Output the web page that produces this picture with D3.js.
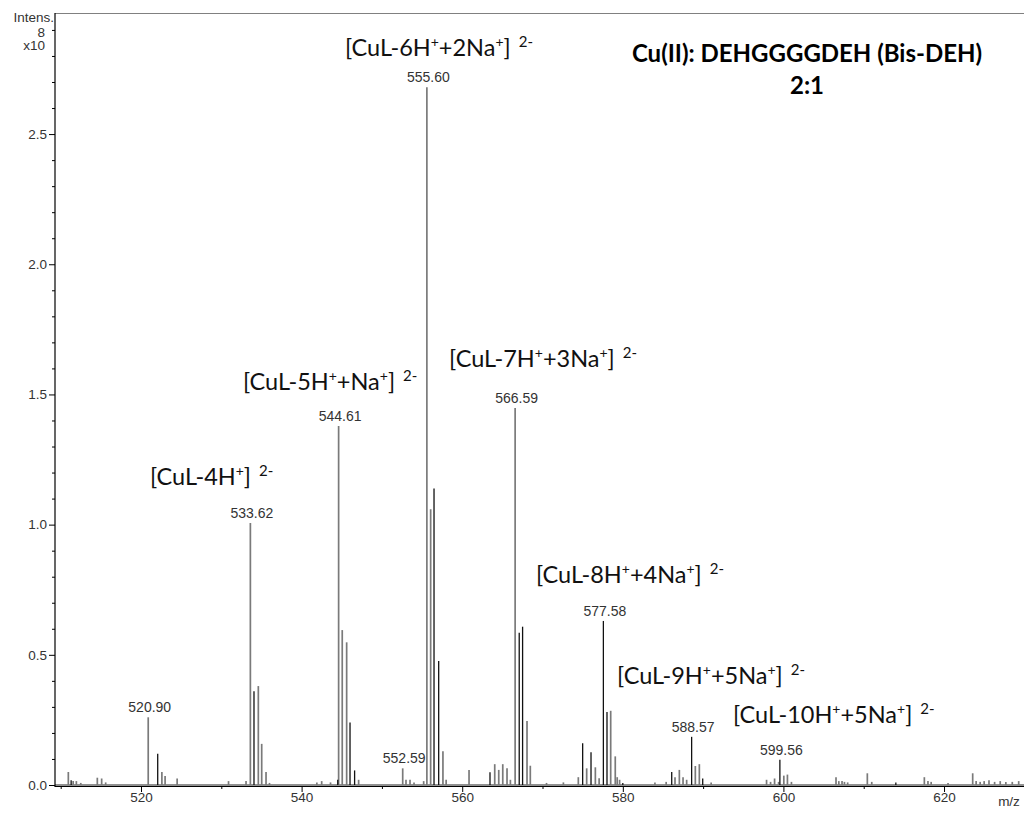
<!DOCTYPE html>
<html>
<head>
<meta charset="utf-8">
<script src="https://cdn.jsdelivr.net/npm/d3@7"></script>
<style>
  html, body { margin: 0; padding: 0; background: #fff; }
  svg { display: block; }
</style>
</head>
<body>
<svg id="chart" width="1024" height="814"></svg>
<script>
// Mass spectrum of the Cu(II) : DEHGGGGDEH (Bis-DEH) 2:1 solution, intensities in units of 1e8

// Centroid sticks drawn in grey: [m/z, intensity x1e8]
const greyTrace = [
  [510.95, 0.05], [511.55, 0.015], [511.95, 0.015], [512.5, 0.008],
  [514.56, 0.028], [515.1, 0.025], [515.6, 0.01],
  [520.90, 0.26], [522.6, 0.05], [523.0, 0.035], [524.5, 0.025], [530.9, 0.015],
  [533.08, 0.015], [533.62, 1.006], [534.61, 0.38], [535.03, 0.158], [535.57, 0.05], [536.0, 0.008],
  [541.9, 0.01], [542.5, 0.015], [543.6, 0.01],
  [544.61, 1.379], [545.06, 0.595], [545.61, 0.548], [547.1, 0.02],
  [552.59, 0.064], [553.0, 0.02], [553.5, 0.02], [554.0, 0.01], [555.2, 0.015],
  [555.60, 2.68], [556.07, 1.059], [557.6, 0.13], [558.0, 0.02],
  [560.85, 0.058], [564.05, 0.08], [564.55, 0.058], [565.05, 0.08], [565.58, 0.064], [566.0, 0.02],
  [566.59, 1.448], [568.07, 0.246], [568.48, 0.074], [570.5, 0.008], [572.6, 0.01],
  [574.46, 0.03], [575.5, 0.064], [576.58, 0.068], [577.05, 0.026],
  [578.49, 0.285], [579.06, 0.11], [579.3, 0.03], [579.6, 0.02],
  [584.0, 0.01], [585.4, 0.012], [586.5, 0.03], [587.04, 0.058], [587.5, 0.03], [587.95, 0.02],
  [589.03, 0.073], [589.53, 0.08], [591.0, 0.01],
  [597.9, 0.02], [598.4, 0.012], [598.9, 0.025], [599.4, 0.012], [600.05, 0.036], [600.5, 0.04], [601.0, 0.012],
  [606.55, 0.03], [606.9, 0.015], [607.3, 0.015], [607.6, 0.012], [608.0, 0.01],
  [610.45, 0.045], [611.0, 0.012], [617.55, 0.03], [618.0, 0.015], [618.4, 0.012], [620.5, 0.008],
  [623.57, 0.045], [624.0, 0.015], [624.5, 0.012], [625.0, 0.015], [625.6, 0.018], [626.3, 0.012],
  [627.0, 0.015], [627.7, 0.012], [628.5, 0.012], [629.3, 0.015]
];

// Centroid sticks drawn in black: [m/z, intensity x1e8]
const blackTrace = [
  [511.3, 0.018], [522.08, 0.12], [534.07, 0.36], [544.5, 0.02],
  [546.03, 0.24], [546.6, 0.056], [556.49, 1.139], [557.07, 0.476],
  [563.46, 0.049], [567.10, 0.585], [567.52, 0.608],
  [575.0, 0.16], [576.04, 0.126], [577.58, 0.63], [578.03, 0.28], [580.0, 0.008],
  [586.09, 0.05], [588.57, 0.185], [589.95, 0.025], [599.56, 0.097], [614.0, 0.01]
];

// Labelled peak apexes
const labelledPeaks = [520.90, 533.62, 544.61, 552.59, 555.60, 566.59, 577.58, 588.57, 599.56];

// Ion assignments: text pieces (second flag = superscript), and the m/z / intensity where each label starts
const ionNames = [
  { parts: [["[CuL-4H", 0], ["+", 1], ["]", 0]], at: [521.12, 1.152] },
  { parts: [["[CuL-5H", 0], ["+", 1], ["+Na", 0], ["+", 1], ["]", 0]], at: [532.70, 1.517] },
  { parts: [["[CuL-6H", 0], ["+", 1], ["+2Na", 0], ["+", 1], ["]", 0]], at: [545.40, 2.800] },
  { parts: [["[CuL-7H", 0], ["+", 1], ["+3Na", 0], ["+", 1], ["]", 0]], at: [558.36, 1.605] },
  { parts: [["[CuL-8H", 0], ["+", 1], ["+4Na", 0], ["+", 1], ["]", 0]], at: [569.19, 0.776] },
  { parts: [["[CuL-9H", 0], ["+", 1], ["+5Na", 0], ["+", 1], ["]", 0]], at: [579.28, 0.388] },
  { parts: [["[CuL-10H", 0], ["+", 1], ["+5Na", 0], ["+", 1], ["]", 0]], at: [593.72, 0.238] }
];
const chargeLabel = "2-";

const titleLines = ["Cu(II): DEHGGGGDEH (Bis-DEH)", "2:1"];

const xMajorTicks = [520, 540, 560, 580, 600, 620];
const xMinorTicks = [510, 530, 550, 570, 590, 610, 630];
const yMajorTicks = [0, 0.5, 1.0, 1.5, 2.0, 2.5];
const yMinorTicks = [0.1, 0.2, 0.3, 0.4, 0.6, 0.7, 0.8, 0.9, 1.1, 1.2, 1.3, 1.4,
  1.6, 1.7, 1.8, 1.9, 2.1, 2.2, 2.3, 2.4, 2.6, 2.7, 2.8, 2.9];

// ---------- layout ----------
const svg = d3.select("#chart");
const plotLeft = 55, plotRight = 1024, plotTop = 13, baseY = 785;

const x = d3.scaleLinear().domain([509.29, 629.96]).range([plotLeft, plotRight]);
const y = d3.scaleLinear().domain([0, 2.965]).range([baseY, plotTop]);

const axisFont = "'Liberation Sans', Arial, sans-serif";
const annFont = "Lato, 'Open Sans', sans-serif";

// frame top edge
svg.append("line")
  .attr("x1", plotLeft).attr("x2", plotRight).attr("y1", plotTop + 0.5).attr("y2", plotTop + 0.5)
  .attr("stroke", "#808080").attr("stroke-width", 1.2);

// spectrum baseline
svg.append("line")
  .attr("x1", plotLeft).attr("x2", plotRight).attr("y1", y(0)).attr("y2", y(0))
  .attr("stroke", "#222").attr("stroke-width", 1);

// sticks
const sticks = svg.append("g");
sticks.selectAll("line.g").data(greyTrace).join("line")
  .attr("class", "g")
  .attr("x1", d => x(d[0])).attr("x2", d => x(d[0]))
  .attr("y1", y(0)).attr("y2", d => y(d[1]))
  .attr("stroke", "#7a7a7a").attr("stroke-width", 1.7);
sticks.selectAll("line.k").data(blackTrace).join("line")
  .attr("class", "k")
  .attr("x1", d => x(d[0])).attr("x2", d => x(d[0]))
  .attr("y1", y(0)).attr("y2", d => y(d[1]))
  .attr("stroke", "#111").attr("stroke-width", 1.3);

// peak m/z labels
const allPeaks = greyTrace.concat(blackTrace);
svg.append("g").selectAll("text").data(labelledPeaks).join("text")
  .attr("x", d => x(d) + 1.5)
  .attr("y", d => {
    const p = allPeaks.find(q => Math.abs(q[0] - d) < 0.001);
    return y(p[1]) - 5;
  })
  .attr("text-anchor", "middle")
  .attr("font-family", axisFont).attr("font-size", 14)
  .attr("fill", "#333")
  .text(d => d.toFixed(2));

// x axis
const xAxis = svg.append("g").attr("transform", `translate(0,${baseY + 1})`);
xAxis.append("line").attr("x1", plotLeft).attr("x2", plotRight).attr("y1", 0.5).attr("y2", 0.5)
  .attr("stroke", "#000").attr("stroke-width", 1.2);
xAxis.append("g").call(d3.axisBottom(x).tickValues(xMajorTicks).tickSize(6).tickFormat(d3.format("d")))
  .call(g => g.select(".domain").remove())
  .call(g => g.selectAll("text").attr("font-family", axisFont).attr("font-size", 13.5)
    .attr("fill", "#333").attr("dy", "0.5em"));
xAxis.append("g").call(d3.axisBottom(x).tickValues(xMinorTicks).tickSize(3).tickFormat(""))
  .call(g => g.select(".domain").remove());
xAxis.append("text").attr("x", 1009).attr("y", 20)
  .attr("text-anchor", "middle")
  .attr("font-family", axisFont).attr("font-size", 13.5).attr("fill", "#333")
  .text("m/z");

// y axis
const yAxis = svg.append("g").attr("transform", `translate(${plotLeft},0)`);
yAxis.append("line").attr("x1", 0).attr("x2", 0).attr("y1", plotTop).attr("y2", baseY + 2)
  .attr("stroke", "#000").attr("stroke-width", 1.2);
yAxis.append("g").call(d3.axisLeft(y).tickValues(yMajorTicks).tickSize(6).tickFormat(d3.format(".1f")))
  .call(g => g.select(".domain").remove())
  .call(g => g.selectAll("text").attr("font-family", axisFont).attr("font-size", 13.5)
    .attr("fill", "#333").attr("x", -8));
yAxis.append("g").call(d3.axisLeft(y).tickValues(yMinorTicks).tickSize(3).tickFormat(""))
  .call(g => g.select(".domain").remove());

// intensity unit
const unit = svg.append("g").attr("font-family", axisFont).attr("fill", "#333").attr("text-anchor", "end");
unit.append("text").attr("x", 54).attr("y", 22).attr("font-size", 13.5).text("Intens.");
unit.append("text").attr("x", 45).attr("y", 37).attr("font-size", 13.5).text("8");
unit.append("text").attr("x", 45).attr("y", 50).attr("font-size", 13.5).text("x10");

// ion assignment labels
const ann = svg.append("g").attr("font-family", annFont).attr("fill", "#111");
ionNames.forEach(n => {
  const t = ann.append("text").attr("x", x(n.at[0])).attr("y", y(n.at[1])).attr("font-size", 23.5);
  let raised = false;
  n.parts.forEach(([s, sup]) => {
    const ts = t.append("tspan").text(s);
    const shift = sup && !raised ? -9 : (!sup && raised ? 9 : 0);
    ts.attr("dy", shift);
    if (sup) ts.attr("font-size", 14);
    raised = !!sup;
  });
  t.append("tspan").attr("font-size", 15).attr("dy", raised ? 0 : -9).attr("dx", 8).text(chargeLabel);
});

// title
svg.append("g").attr("font-family", annFont).attr("font-weight", "bold").attr("fill", "#000")
  .attr("text-anchor", "middle").attr("font-size", 24)
  .selectAll("text").data(titleLines).join("text")
  .attr("x", 807).attr("y", (d, i) => 62 + i * 32)
  .text(d => d);
</script>
</body>
</html>
